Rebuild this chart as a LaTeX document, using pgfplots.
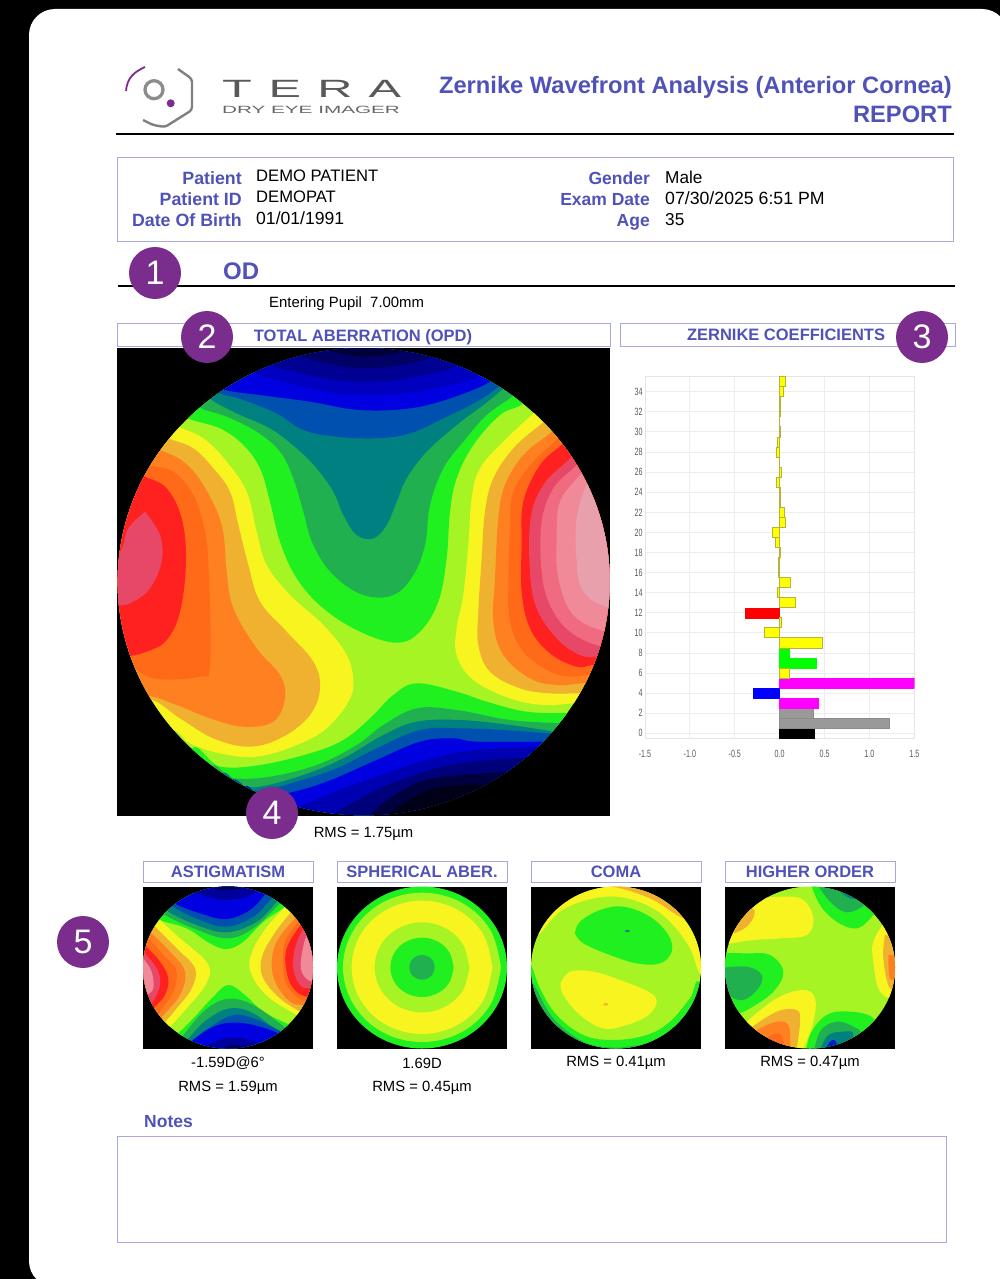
\documentclass[border=0pt]{standalone}
\usepackage{fontspec}
\setmainfont{Liberation Sans}
\usepackage{pgfplots}
\pgfplotsset{compat=1.18}

\definecolor{hdr}{HTML}{5052B8}
\definecolor{frm}{HTML}{A8A8E0}
\definecolor{badge}{HTML}{7B2D8E}
\definecolor{bl}{HTML}{0000E0}
\definecolor{bt}{HTML}{0050B0}
\definecolor{te}{HTML}{008080}
\definecolor{dg}{HTML}{20B050}
\definecolor{gr}{HTML}{20F020}
\definecolor{li}{HTML}{A6F424}
\definecolor{ye}{HTML}{F8F420}
\definecolor{oy}{HTML}{F0B030}
\definecolor{or}{HTML}{FF8020}
\definecolor{dor}{HTML}{FF6A18}
\definecolor{re}{HTML}{FF2020}
\definecolor{pk}{HTML}{E84868}
\definecolor{pkb}{HTML}{F06A80}
\definecolor{pkc}{HTML}{F08A98}
\definecolor{pkd}{HTML}{E8A0AC}
\definecolor{barY}{HTML}{FFFF00}
\definecolor{barYe}{HTML}{B4B43C}
\definecolor{barM}{HTML}{FF00FF}
\definecolor{barG}{HTML}{00FF00}
\definecolor{barR}{HTML}{FF0000}
\definecolor{barB}{HTML}{0000FF}

\newcommand{\fs}[1]{\fontsize{#1}{#1}\selectfont}
\newcommand{\region}[2]{\addplot[fill=#1,draw=none,smooth,tension=.63] coordinates {#2} --cycle;}

\pgfplotsset{mapaxis/.style={hide axis,scale only axis,y dir=reverse,anchor=center,enlargelimits=false}}
\tikzset{
  hd/.style={inner sep=0pt,text=hdr,font=\bfseries\fs{#1}},
  tx/.style={inner sep=0pt,text=black,font=\fs{#1}},
  badgenum/.style={circle,fill=badge,minimum size=52pt,inner sep=0pt,text=white,font=\fs{34}},
}

\begin{document}
\begin{tikzpicture}[x=1pt,y=-1pt]
\useasboundingbox (0,0) rectangle (1000,1279);
\clip (0,0) rectangle (1000,1279);
\fill[black] (0,0) rectangle (1000,1279);
\fill[white,rounded corners=26pt] (29,9) rectangle (1008,1287);

% logo
\draw[black!50!white,line width=2.4pt,rounded corners=3pt] (178,69) -- (192,79) -- (192,110) -- (165,127) -- (153,125) -- (143,120);
\draw[badge,line width=1.8pt] (145,67) .. controls (134,72) and (127,78) .. (126,91);
\draw[black!45!white,line width=3.3pt] (154,89.7) circle (9);
\fill[badge] (170.7,103.3) circle (4);
\foreach \c/\l in {237/T,285/E,335/R,385/A}
  \node[inner sep=0pt,text=black!65!white,font=\fs{25},xscale=1.95] at (\c,88.5) {\l};
\node[inner sep=0pt,text=black!60!white,font=\fs{10.5},xscale=1.97] at (311,110) {DRY EYE IMAGER};
\draw[black,line width=1.2pt] (116,134) -- (954,134);
\node[hd=23.7,anchor=mid east] at (952,91) {Zernike Wavefront Analysis (Anterior Cornea)};
\node[hd=23.7,anchor=mid east] at (952,120) {REPORT};

% patient block
\draw[frm,line width=1pt] (117,157) rectangle (953,241);
\foreach \y/\l in {182/Patient,203/Patient ID,224/Date Of Birth} \node[hd=17.8,anchor=mid east] at (242,\y) {\l};
\node[tx=16.6,anchor=mid west] at (256,179) {DEMO PATIENT};
\node[tx=16.6,anchor=mid west] at (256,200) {DEMOPAT};
\node[tx=17.6,anchor=mid west] at (256,221.5) {01\slash 01\slash 1991};
\foreach \y/\l in {182/Gender,203/Exam Date,224/Age} \node[hd=17.5,anchor=mid east] at (650,\y) {\l};
\node[tx=17.2,anchor=mid west] at (665,180.5) {Male};
\node[tx=17.7,anchor=mid west] at (665,201.5) {07\slash 30\slash 2025 6:51 PM};
\node[tx=17.2,anchor=mid west] at (665,223) {35};

\node[hd=24,anchor=mid west] at (223,277) {OD};
\draw[black,line width=1.2pt] (118,286) -- (955,286);
\node[tx=14.9,anchor=mid west] at (269,304.5) {Entering Pupil\ \ 7.00mm};

\draw[frm,line width=1pt] (117,323) rectangle (610,346);
\node[hd=16.5] at (363,337.5) {TOTAL ABERRATION (OPD)};
\draw[frm,line width=1pt] (620,323) rectangle (955,346);
\node[hd=16.5] at (786,335) {ZERNIKE COEFFICIENTS};

% total aberration map
\fill[black] (117,348) rectangle (610,816);
\begin{scope}
\clip (363.7,581.7) ellipse [x radius=246,y radius=233.5];
\begin{axis}[mapaxis,at={(365pt,-585pt)},width=510pt,height=480pt,xmin=0,xmax=1530,ymin=0,ymax=1440]
\region{li}{(-50,-50)(1600,-50)(1600,1500)(-50,1500)}
% upper valley
\region{gr}{(190,180)(235,220)(330,250)(400,300)(450,370)(480,470)(510,590)(560,700)(640,790)(750,860)(860,893)(930,860)(985,770)(1010,640)(1020,500)(1040,400)(1090,300)(1170,210)(1240,175)(1300,100)(1300,-100)(190,-100)}
\region{dg}{(230,150)(275,190)(350,215)(440,260)(510,320)(550,400)(580,500)(610,600)(670,690)(760,750)(850,750)(910,690)(945,600)(960,480)(1000,370)(1060,290)(1130,210)(1205,155)(1260,100)(1260,-100)(230,-100)}
\region{te}{(270,130)(305,165)(380,205)(480,250)(560,310)(620,370)(670,440)(700,510)(740,570)(790,580)(830,540)(860,470)(890,400)(950,320)(1040,240)(1120,180)(1175,135)(1240,80)(1240,-100)(270,-100)}
\region{bt}{(290,120)(330,145)(400,165)(500,205)(580,255)(680,275)(800,280)(900,265)(1000,220)(1100,170)(1165,125)(1220,70)(1220,-100)(290,-100)}
\region{bl}{(300,110)(345,135)(450,150)(600,170)(750,195)(900,190)(1020,160)(1140,110)(1200,50)(1200,-100)(300,-100)}
\region{bl!85!black}{(380,70)(600,130)(760,150)(950,135)(1130,70)(1130,-100)(380,-100)}
\region{bl!65!black}{(440,50)(620,95)(760,110)(920,95)(1070,40)(1070,-100)(440,-100)}
\region{bl!45!black}{(520,20)(760,70)(1000,20)(1000,-100)(520,-100)}
\region{bl!25!black}{(600,0)(760,35)(920,0)(920,-100)(600,-100)}
% lower valley
\region{gr}{(1460,1110)(1385,1105)(1250,1100)(1130,1070)(1040,1040)(920,1015)(850,1050)(780,1120)(700,1185)(600,1225)(450,1260)(330,1265)(240,1225)(240,1600)(1460,1600)}
\region{dg}{(1440,1140)(1355,1135)(1200,1125)(1040,1095)(920,1090)(820,1140)(740,1200)(620,1260)(480,1295)(370,1300)(300,1280)(300,1600)(1440,1600)}
\region{te}{(1420,1170)(1335,1160)(1200,1140)(1050,1125)(920,1130)(820,1170)(700,1240)(580,1290)(450,1325)(390,1320)(330,1300)(330,1600)(1420,1600)}
\region{bt}{(1400,1170)(1320,1165)(1180,1155)(1050,1150)(930,1155)(800,1210)(680,1270)(560,1310)(470,1335)(420,1335)(360,1320)(360,1600)(1400,1600)}
\region{bl}{(1380,1190)(1300,1190)(1100,1190)(1030,1180)(930,1190)(800,1245)(650,1310)(530,1345)(450,1350)(400,1340)(400,1600)(1380,1600)}
\region{bl!80!black}{(1340,1205)(1100,1215)(950,1245)(800,1295)(640,1355)(540,1420)(540,1600)(1340,1600)}
\region{bl!55!black}{(1290,1235)(1050,1255)(900,1295)(760,1355)(650,1440)(650,1600)(1290,1600)}
\region{bl!28!black}{(1240,1280)(1000,1295)(880,1335)(760,1440)(760,1600)(1240,1600)}
\region{bl!10!black}{(1180,1320)(1000,1325)(890,1370)(820,1440)(820,1600)(1180,1600)}
% left crest
\region{ye}{(170,220)(205,245)(280,280)(350,350)(410,440)(440,560)(470,660)(540,750)(640,840)(710,930)(730,1010)(715,1070)(650,1150)(560,1200)(440,1235)(330,1225)(240,1195)(170,1150)(-60,1150)(-60,220)}
\region{oy}{(140,260)(175,280)(250,310)(310,370)(360,440)(385,540)(415,660)(450,770)(530,860)(610,950)(630,1030)(600,1110)(520,1175)(420,1205)(310,1180)(210,1120)(110,1060)(-60,1060)(-60,260)}
\region{or}{(110,300)(150,315)(220,350)(280,420)(335,540)(350,680)(370,790)(440,910)(510,990)(525,1060)(490,1130)(400,1145)(300,1120)(200,1080)(100,1050)(-60,1050)(-60,300)}
\region{dor}{(80,340)(115,360)(190,380)(250,450)(285,560)(297,700)(300,960)(270,995)(130,1000)(40,950)(-60,950)(-60,340)}
\region{re}{(70,380)(105,395)(170,430)(215,520)(228,650)(210,800)(170,885)(110,920)(40,935)(-60,935)(-60,380)}
\region{pk}{(105,500)(150,570)(155,650)(120,730)(70,770)(25,782)(-60,785)(-60,640)(25,625)(55,550)(105,500)}
% right crest
\region{ye}{(1300,180)(1265,210)(1180,290)(1110,370)(1085,460)(1075,600)(1060,750)(1040,850)(1040,930)(1090,1005)(1200,1060)(1300,1080)(1395,1075)(1470,1075)(1600,1075)(1600,180)}
\region{oy}{(1330,210)(1290,240)(1210,310)(1150,400)(1125,500)(1115,640)(1105,800)(1105,900)(1140,980)(1230,1030)(1320,1045)(1410,1045)(1600,1045)(1600,210)}
\region{or}{(1360,230)(1320,265)(1240,330)(1185,420)(1165,520)(1155,700)(1150,830)(1180,930)(1260,1000)(1340,1020)(1425,1015)(1600,1015)(1600,230)}
\region{dor}{(1380,250)(1340,285)(1270,350)(1210,440)(1200,550)(1195,720)(1200,830)(1240,920)(1320,980)(1380,995)(1440,990)(1600,990)(1600,250)}
\region{re}{(1395,265)(1355,300)(1290,360)(1240,470)(1235,600)(1235,740)(1260,850)(1320,925)(1400,965)(1455,960)(1600,960)(1600,265)}
\region{pk}{(1410,310)(1375,345)(1300,420)(1262,520)(1260,680)(1280,790)(1340,880)(1410,930)(1470,935)(1600,935)(1600,310)}
\region{pkb}{(1425,335)(1390,370)(1330,430)(1295,530)(1295,680)(1320,780)(1380,860)(1480,905)(1600,905)(1600,335)}
\region{pkc}{(1445,355)(1410,390)(1350,470)(1340,580)(1345,700)(1390,810)(1490,860)(1600,860)(1600,355)}
\region{pkd}{(1465,385)(1430,420)(1400,520)(1400,650)(1420,740)(1500,790)(1600,790)(1600,385)}
\end{axis}
\end{scope}
\node[tx=14.8] at (363.5,834) {RMS = 1.75µm};

% coefficient bars
\begin{axis}[at={(779.65pt,-557.55pt)},anchor=center,scale only axis,width=269.3pt,height=361.7pt,
  xmin=-1.5,xmax=1.5,ymin=-0.5,ymax=35.5,
  xbar,bar shift=0pt,bar width=10.05pt,
  xtick={-1.5,-1,-0.5,0,0.5,1,1.5},xticklabels={-1.5,-1.0,-0.5,0.0,0.5,1.0,1.5},
  ytick={0,2,...,34},
  /pgf/number format/assume math mode=true,
  major tick length=0pt,
  grid=major,major grid style={draw=black!7,line width=1pt},
  axis line style={draw=black!10,line width=1pt},
  tick label style={font=\fs{10.5},text=black!65,xscale=.68},
  xticklabel style={yshift=-8pt},
  axis on top=false]
\addplot[fill=black,draw=black] coordinates {(0.386,0)};
\addplot[fill=black!40,draw=black!45] coordinates {(1.218,1)(0.379,2)};
\addplot[fill=barM,draw=barM] coordinates {(0.427,3)(1.5,5)};
\addplot[fill=barB,draw=barB] coordinates {(-0.293,4)};
\addplot[fill=barG,draw=barG] coordinates {(0.412,7)(0.111,8)};
\addplot[fill=barR,draw=barR] coordinates {(-0.382,12)};
\addplot[fill=barY,draw=barYe,line width=.9pt] coordinates {
 (0.104,6)(0.472,9)(-0.171,10)(0.022,11)(0.175,13)(-0.03,14)(0.119,15)(-0.015,16)(-0.015,17)
 (0.005,18)(-0.045,19)(-0.078,20)(0.067,21)(0.048,22)(0.008,23)(0.01,24)(-0.037,25)(0.02,26)
 (0.003,27)(-0.037,28)(-0.03,29)(0.01,30)(-0.003,31)(0.01,32)(0.005,33)(0.045,34)(0.06,35)};
\end{axis}

% small map titles
\foreach \x/\l in {143/ASTIGMATISM,337/SPHERICAL ABER.,531/COMA,725/HIGHER ORDER}{
  \draw[frm,line width=1pt] (\x,861) rectangle ++(170,21);
  \node[hd=16.5] at (\x+85,871.5) {\l};
  \fill[black] (\x,887) rectangle ++(170,162);
}

% astigmatism
\begin{scope}
\clip (228,967.5) ellipse [x radius=85,y radius=81];
\begin{axis}[mapaxis,at={(325pt,-975pt)},width=390pt,height=240pt,xmin=0,xmax=1170,ymin=0,ymax=720]
\region{li}{(0,0)(600,0)(600,650)(0,650)}
\region{gr}{(70,170)(90,195)(170,220)(240,265)(290,282)(340,260)(400,200)(465,155)(490,120)(490,50)(70,50)}
\region{dg}{(90,160)(105,180)(190,220)(290,250)(370,220)(450,145)(480,110)(480,50)(90,50)}
\region{te}{(100,150)(115,170)(200,210)(290,232)(380,200)(440,140)(470,100)(470,50)(100,50)}
\region{bt}{(115,130)(130,155)(210,195)(290,215)(370,185)(425,130)(450,100)(450,50)(115,50)}
\region{bl}{(125,125)(140,148)(220,178)(290,192)(360,165)(405,118)(430,90)(430,50)(125,50)}
\region{bl!70!black}{(170,105)(230,125)(290,135)(350,125)(400,95)(400,50)(170,50)}
\region{bl!35!black}{(215,85)(250,100)(290,105)(330,100)(370,85)(370,50)(215,50)}
\region{gr}{(110,570)(140,540)(190,490)(250,425)(295,390)(345,420)(400,470)(480,510)(520,530)(520,650)(110,650)}
\region{dg}{(130,570)(160,540)(220,470)(290,432)(370,450)(470,520)(510,540)(510,650)(130,650)}
\region{te}{(140,580)(170,555)(230,495)(300,460)(370,475)(450,535)(490,560)(490,650)(140,650)}
\region{bt}{(150,585)(180,560)(250,510)(310,480)(370,490)(445,525)(480,550)(480,650)(150,650)}
\region{bl}{(160,580)(190,555)(240,520)(300,503)(370,510)(445,535)(470,560)(470,650)(160,650)}
\region{bl!70!black}{(215,580)(260,558)(310,548)(370,558)(415,585)(415,650)(215,650)}
\region{bl!35!black}{(260,595)(310,570)(370,595)(370,650)(260,650)}
\region{ye}{(65,170)(90,195)(150,250)(220,310)(240,350)(220,400)(170,460)(125,510)(100,530)(0,530)(0,170)}
\region{oy}{(50,190)(75,215)(140,280)(195,340)(185,400)(140,460)(110,495)(90,515)(0,515)(0,190)}
\region{or}{(40,210)(65,235)(120,290)(165,350)(150,420)(100,480)(80,500)(0,500)(0,210)}
\region{dor}{(30,225)(55,250)(110,310)(140,350)(130,410)(90,470)(70,490)(0,490)(0,225)}
\region{re}{(25,245)(45,270)(90,320)(115,370)(105,420)(75,455)(50,480)(0,480)(0,245)}
\region{pk}{(25,270)(40,290)(80,340)(90,390)(65,445)(45,460)(0,460)(0,270)}
\region{pkc}{(25,290)(40,310)(65,350)(70,400)(50,420)(35,430)(0,430)(0,290)}
\region{ye}{(490,125)(465,155)(400,230)(360,310)(370,370)(420,430)(500,480)(530,500)(600,500)(600,125)}
\region{oy}{(505,145)(480,175)(430,240)(395,310)(400,370)(450,430)(510,470)(540,490)(600,490)(600,145)}
\region{or}{(520,165)(495,190)(440,260)(425,330)(440,390)(480,440)(520,450)(600,450)(600,165)}
\region{dor}{(530,175)(505,200)(465,260)(460,330)(470,390)(525,440)(600,440)(600,175)}
\region{re}{(535,185)(515,205)(470,280)(470,350)(490,400)(530,425)(600,425)(600,185)}
\region{pk}{(540,200)(520,220)(495,280)(490,340)(510,390)(540,400)(600,400)(600,200)}
\region{pkc}{(550,220)(530,240)(515,300)(515,350)(545,380)(600,380)(600,220)}
\end{axis}
\end{scope}

% spherical aberration
\begin{scope}
\clip (422,967.5) ellipse [x radius=85,y radius=81];
\begin{axis}[mapaxis,at={(325pt,-975pt)},width=390pt,height=240pt,xmin=0,xmax=1170,ymin=0,ymax=720]
\region{gr}{(600,60)(1150,60)(1150,620)(600,620)}
\region{li}{(1113,337)(1081,449)(995,531)(876,561)(757,531)(671,449)(639,337)(671,225)(757,143)(876,113)(995,143)(1081,225)(1113,337)}
\region{ye}{(1087,337)(1059,437)(982,510)(876,537)(770,510)(693,437)(665,337)(693,237)(770,164)(876,137)(982,164)(1059,237)(1087,337)}
\region{li}{(1018,337)(999,405)(947,454)(876,472)(805,454)(753,405)(734,337)(753,269)(805,220)(876,202)(947,220)(999,269)(1018,337)}
\region{gr}{(971,337)(958,382)(924,414)(876,426)(828,414)(794,382)(781,337)(794,292)(828,260)(876,248)(924,260)(958,292)(971,337)}
\region{dg}{(914,337)(909,356)(895,369)(876,374)(857,369)(843,356)(838,337)(843,318)(857,305)(876,300)(895,305)(909,318)(914,337)}
\end{axis}
\end{scope}

% coma
\begin{scope}
\clip (616,967.5) ellipse [x radius=85,y radius=81];
\begin{axis}[mapaxis,at={(715pt,-975pt)},width=390pt,height=240pt,xmin=0,xmax=1170,ymin=0,ymax=720]
\region{li}{(0,50)(600,50)(600,640)(0,640)}
\region{ye}{(40,250)(65,230)(120,170)(200,135)(290,125)(380,150)(450,200)(510,280)(542,360)(600,400)(600,50)(40,50)}
\region{oy}{(240,88)(320,105)(400,135)(480,185)(520,190)(520,50)(240,50)}
\region{gr}{(165,235)(180,200)(240,165)(310,155)(390,185)(445,240)(455,290)(420,325)(350,325)(270,300)(190,265)(165,235)}
\region{te}{(314,228)(322,224)(330,228)(322,232)(314,228)}
\region{ye}{(122,385)(150,350)(220,350)(300,375)(385,410)(410,440)(385,480)(320,510)(250,520)(180,480)(130,420)(122,385)}
\region{oy}{(249,448)(257,444)(265,448)(257,452)(249,448)}
\region{gr}{(20,310)(34,330)(60,400)(110,480)(190,540)(280,555)(380,540)(450,500)(510,430)(540,390)(600,640)(0,640)}
\region{dg}{(30,380)(45,395)(100,490)(190,560)(280,578)(370,572)(450,600)(450,640)(30,640)}
\end{axis}
\end{scope}

% higher order
\begin{scope}
\clip (810,967.5) ellipse [x radius=85,y radius=81];
\begin{axis}[mapaxis,at={(715pt,-975pt)},width=390pt,height=240pt,xmin=0,xmax=1170,ymin=0,ymax=720]
\region{li}{(580,50)(1160,50)(1160,640)(580,640)}
\region{gr}{(870,80)(900,150)(950,200)(1010,220)(1060,180)(1080,140)(1080,60)(870,60)}
\region{dg}{(890,85)(930,140)(980,172)(1035,150)(1060,120)(1060,60)(890,60)}
\region{te}{(950,100)(980,125)(1010,130)(1030,100)(1030,60)(950,60)}
\region{ye}{(600,270)(640,215)(700,140)(790,125)(850,135)(880,190)(860,240)(780,250)(700,255)(635,265)(600,270)}
\region{oy}{(620,230)(640,235)(680,215)(703,180)(695,160)(650,170)(620,230)}
\region{gr}{(590,295)(680,295)(750,300)(790,350)(760,410)(690,460)(650,475)(600,470)(590,295)}
\region{dg}{(590,340)(680,335)(725,360)(715,400)(670,435)(625,420)(590,380)(590,340)}
\region{ye}{(1100,190)(1060,260)(1060,320)(1075,400)(1110,430)(1160,420)(1160,190)}
\region{oy}{(1095,240)(1090,310)(1110,400)(1150,380)(1150,250)}
\region{or}{(1105,300)(1110,370)(1140,360)(1140,300)}
\region{ye}{(680,500)(770,430)(850,405)(885,430)(880,500)(850,582)(835,620)(680,620)}
\region{oy}{(690,520)(770,470)(830,465)(840,500)(830,580)(820,620)(690,620)}
\region{or}{(710,525)(770,500)(805,510)(810,560)(800,610)(710,610)}
\region{dor}{(745,545)(775,535)(790,560)(790,610)(730,600)}
\region{gr}{(855,620)(870,540)(920,480)(990,470)(1060,490)(1080,560)(1000,620)}
\region{dg}{(875,620)(900,530)(950,500)(1000,515)(1020,540)(960,620)}
\region{te}{(890,620)(920,545)(970,530)(1000,540)(960,620)}
\region{bl!80!te}{(900,620)(930,560)(950,565)(950,620)}
\end{axis}
\end{scope}

% captions
\node[tx=14.8] at (228,1063) {-1.59D@6°};
\node[tx=14.8] at (228,1088) {RMS = 1.59µm};
\node[tx=14.8] at (422,1063) {1.69D};
\node[tx=14.8] at (422,1088) {RMS = 0.45µm};
\node[tx=14.8] at (616,1062.5) {RMS = 0.41µm};
\node[tx=14.8] at (810,1062.5) {RMS = 0.47µm};

\node[hd=17.5,anchor=mid west] at (144,1125) {Notes};
\draw[frm,line width=1pt] (117,1136) rectangle (946,1242);

% numbered badges
\node[badgenum] at (155,273) {1};
\node[badgenum] at (207,337) {2};
\node[badgenum] at (922,337) {3};
\node[badgenum] at (272,813) {4};
\node[badgenum] at (83,942) {5};
\end{tikzpicture}
\end{document}
